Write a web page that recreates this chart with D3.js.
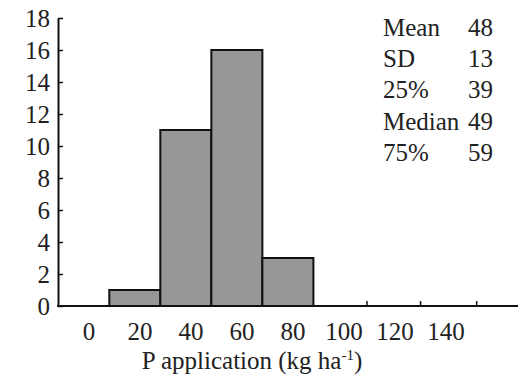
<!DOCTYPE html>
<html>
<head>
<meta charset="utf-8">
<script src="https://cdn.jsdelivr.net/npm/d3@7"></script>
<style>
  html, body { margin: 0; padding: 0; background: #fff; }
  svg { display: block; }
  svg text { font-family: "Liberation Serif", Tinos, "Times New Roman", FreeSerif, serif !important; }
</style>
</head>
<body>
<svg id="chart" width="518" height="381" font-family="Liberation Serif, serif"></svg>
<script>
// ---- data ----
const binStarts = [8, 28, 48, 68];
const binEnds   = [28, 48, 68, 88];
const counts    = [1, 11, 16, 3];
const xTickLabels = [0, 20, 40, 60, 80, 100, 120, 140];
const xEdgeTicks  = [109, 130, 152];
const yTicks = [0, 2, 4, 6, 8, 10, 12, 14, 16, 18];
const statNames  = ["Mean", "SD", "25%", "Median", "75%"];
const statValues = [48, 13, 39, 49, 59];

// ---- layout ----
const plotLeft = 58, plotRight = 518, plotTop = 18, plotBottom = 306;
const fontSize = 25;
const FONT = "'Liberation Serif', Tinos, 'Times New Roman', FreeSerif, serif";
const TEXT_COLOR = "#222";

const svg = d3.select("#chart");

const x = d3.scaleLinear().domain([-12.5, 168.2]).range([plotLeft - 1, plotRight]);
const y = d3.scaleLinear().domain([0, 18]).range([plotBottom, plotTop]);

function styleText(sel) {
  return sel.attr("font-family", FONT)
            .style("font-family", FONT)
            .attr("font-size", fontSize)
            .attr("fill", TEXT_COLOR);
}

// bars
svg.append("g").selectAll("rect")
  .data(counts.map((c, i) => ({ c, s: binStarts[i], e: binEnds[i] })))
  .join("rect")
  .attr("x", d => x(d.s))
  .attr("y", d => y(d.c))
  .attr("width", d => x(d.e) - x(d.s))
  .attr("height", d => y(0) - y(d.c))
  .attr("fill", "#979797")
  .attr("stroke", "#111")
  .attr("stroke-width", 2);

// y axis
const yAxis = d3.axisLeft(y)
  .tickValues(yTicks)
  .tickSizeInner(-5)
  .tickSizeOuter(0)
  .tickPadding(8)
  .tickFormat(d3.format("d"));
const gy = svg.append("g").attr("transform", `translate(${plotLeft},0)`).call(yAxis);
gy.attr("font-family", FONT).attr("font-size", fontSize);
gy.select(".domain").attr("stroke", "#111").attr("stroke-width", 2);
gy.selectAll(".tick line").attr("stroke", "#111").attr("stroke-width", 1.5);
styleText(gy.selectAll(".tick text")).attr("dy", "0.34em");

// x axis line
svg.append("line")
  .attr("x1", plotLeft - 1).attr("x2", plotRight)
  .attr("y1", y(0)).attr("y2", y(0))
  .attr("stroke", "#111").attr("stroke-width", 2);

// x edge ticks (pointing up)
svg.append("g").selectAll("line")
  .data(xEdgeTicks)
  .join("line")
  .attr("x1", d => x(d)).attr("x2", d => x(d))
  .attr("y1", y(0)).attr("y2", y(0) - 5)
  .attr("stroke", "#111").attr("stroke-width", 1.5);

// x labels
styleText(svg.append("g").selectAll("text")
  .data(xTickLabels)
  .join("text")
  .attr("x", d => x(d))
  .attr("y", 340)
  .attr("text-anchor", "middle")
  .text(d => d));

// x title
const title = styleText(svg.append("text")
  .attr("x", 252)
  .attr("y", 369)
  .attr("text-anchor", "middle"));
title.append("tspan").text("P application (kg ha");
title.append("tspan").attr("dy", -9).attr("font-size", 15).text("-1");
title.append("tspan").attr("dy", 9).text(")");

// stats legend
const stats = svg.append("g");
styleText(stats.selectAll("text.name")
  .data(statNames)
  .join("text")
  .attr("class", "name")
  .attr("x", 383)
  .attr("y", (d, i) => 36 + i * 31.2)
  .text(d => d));
styleText(stats.selectAll("text.val")
  .data(statValues)
  .join("text")
  .attr("class", "val")
  .attr("x", 468)
  .attr("y", (d, i) => 36 + i * 31.2)
  .text(d => d));
</script>
</body>
</html>
